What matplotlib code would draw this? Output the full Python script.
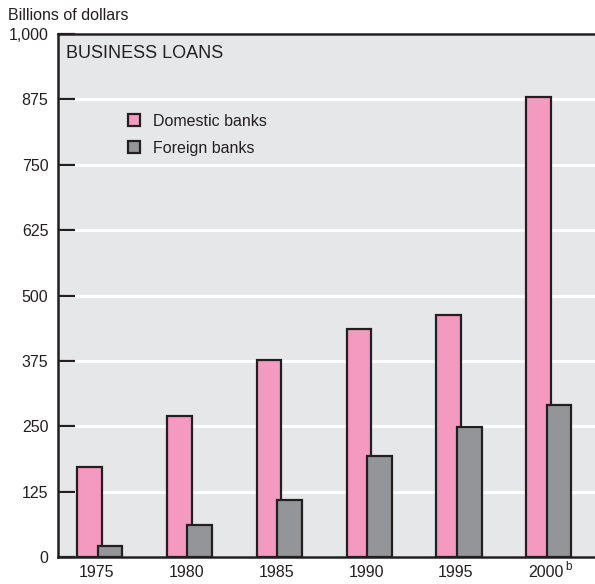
import matplotlib.pyplot as plt
from matplotlib.patches import Patch
from matplotlib.transforms import ScaledTranslation
import numpy as np

years = ["1975", "1980", "1985", "1990", "1995", "2000"]
domestic = [172, 270, 377, 436, 463, 880]
foreign = [21, 61, 109, 193, 249, 291]
yticks = [0, 125, 250, 375, 500, 625, 750, 875, 1000]
ytick_labels = ["0", "125", "250", "375", "500", "625", "750", "875", "1,000"]

pink = "#f49ac1"
gray = "#939598"
edge = "#231f20"
bg = "#e6e7e9"

plt.rcParams['font.family'] = ['Liberation Sans Narrow', 'Liberation Sans', 'DejaVu Sans']

fig = plt.figure(figsize=(5.95, 5.84), dpi=100)
ax = fig.add_axes([58 / 595, 27 / 584, 1 - 58 / 595, 523 / 584])
ax.set_facecolor(bg)

x = np.arange(len(years))
w = 0.276
off = 0.114
ax.bar(x - off, domestic, w, color=pink, edgecolor=edge, linewidth=1.6, zorder=3)
ax.bar(x + off, foreign, w, color=gray, edgecolor=edge, linewidth=1.6, zorder=4)

ax.set_xlim(-0.464, 5.514)
ax.set_ylim(0, 1000)
ax.set_yticks(yticks)
ax.set_yticklabels(ytick_labels)
ax.set_xticks(x)
ax.set_xticklabels(years)
ax.grid(axis='y', color='white', linewidth=2.2, zorder=1)
ax.set_axisbelow(True)

ax.tick_params(axis='y', direction='in', length=12, width=1.6, color=edge,
               pad=7, labelsize=11.5, labelcolor=edge)
ax.tick_params(axis='x', length=0, pad=6, labelsize=11.5, labelcolor=edge)
shift = ScaledTranslation(-3 / 100, 0, fig.dpi_scale_trans)
for lab in ax.get_xticklabels():
    lab.set_transform(lab.get_transform() + shift)

for s in ['left', 'top', 'bottom']:
    ax.spines[s].set_linewidth(1.8)
    ax.spines[s].set_color(edge)
ax.spines['right'].set_visible(False)

# superscript on the last year
ax.annotate("b", xy=(5, 0), xycoords=('data', 'axes fraction'),
            xytext=(14, -7.5), textcoords='offset points',
            fontsize=8.5, color=edge, ha='center', va='center')

ax.text(8 / 537, 0.979, "BUSINESS LOANS", transform=ax.transAxes,
        fontsize=13, color=edge, va='top', ha='left',
        family=['Liberation Sans', 'DejaVu Sans'])

handles = [Patch(facecolor=pink, edgecolor=edge, linewidth=1.6, label="Domestic banks"),
           Patch(facecolor=gray, edgecolor=edge, linewidth=1.6, label="Foreign banks")]
leg = ax.legend(handles=handles, loc='upper left', bbox_to_anchor=(0.104, 0.875),
                frameon=False, handlelength=0.75, handleheight=0.75,
                handletextpad=0.8, labelspacing=0.75, fontsize=11.5)
for t in leg.get_texts():
    t.set_color(edge)

fig.text(8 / 595, 1 - 16 / 584, "Billions of dollars", fontsize=11.5,
         color=edge, va='center', ha='left')

fig.savefig("out.png", dpi=100)
